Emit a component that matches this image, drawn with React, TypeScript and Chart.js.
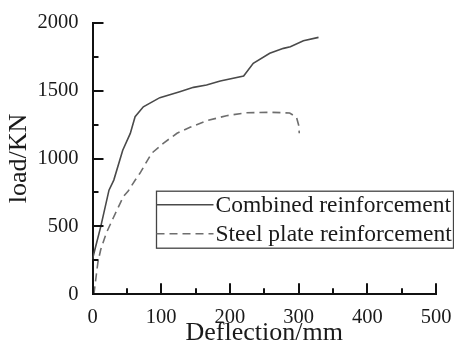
import React, { useEffect, useRef } from 'react';
import { Chart, registerables } from 'chart.js';

Chart.register(...registerables);

const seriesNames = ['Combined reinforcement', 'Steel plate reinforcement'];
const combinedX = [0, 1, 12, 24, 31, 44, 55, 62, 74, 98, 127, 147, 166, 186, 220, 234, 258, 278, 288, 307, 329];
const combinedY = [250, 280, 498, 767, 841, 1061, 1185, 1308, 1381, 1448, 1492, 1524, 1541, 1571, 1608, 1701, 1775, 1811, 1823, 1867, 1892];
const steelX = [2, 5, 8, 12, 20, 30, 45, 52, 62, 69, 86, 103, 123, 142, 166, 195, 224, 260, 287, 297, 300, 301];
const steelY = [0, 120, 240, 330, 450, 560, 720, 760, 840, 891, 1038, 1112, 1186, 1230, 1278, 1315, 1337, 1340, 1335, 1303, 1247, 1186];
const xTickValues = [0, 100, 200, 300, 400, 500];
const yTickValues = [0, 500, 1000, 1500, 2000];
const xTitle = 'Deflection/mm';
const yTitle = 'load/KN';

const FONT = '"Liberation Serif", "Times New Roman", serif';

const tickPlugin = {
  id: 'inwardTicks',
  afterDraw(chart: any) {
    const { ctx, chartArea: ca, scales } = chart;
    ctx.save();
    ctx.strokeStyle = '#111';
    ctx.lineWidth = 2;
    const xs = scales.x;
    xs.ticks.forEach((t: any) => {
      const px = Math.round(xs.getPixelForValue(t.value));
      const len = xTickValues.includes(t.value) ? 11 : 6;
      ctx.beginPath();
      ctx.moveTo(px, ca.bottom);
      ctx.lineTo(px, ca.bottom - len);
      ctx.stroke();
    });
    const ys = scales.y;
    ys.ticks.forEach((t: any) => {
      const py = Math.round(ys.getPixelForValue(t.value));
      const len = yTickValues.includes(t.value) ? 11 : 6;
      ctx.beginPath();
      ctx.moveTo(ca.left, py);
      ctx.lineTo(ca.left + len, py);
      ctx.stroke();
    });
    ctx.restore();
  },
};

const legendPlugin = {
  id: 'boxLegend',
  afterDraw(chart: any) {
    const { ctx, chartArea: ca } = chart;
    const left = ca.left + 64;
    const top = ca.top + 168.5;
    const width = 297;
    const height = 57;
    ctx.save();
    ctx.strokeStyle = '#444';
    ctx.lineWidth = 1.3;
    ctx.strokeRect(left, top, width, height);
    const rows = [top + 13.5, top + 42.5];
    chart.data.datasets.forEach((ds: any, i: number) => {
      const y = rows[i];
      ctx.beginPath();
      ctx.strokeStyle = ds.borderColor;
      ctx.lineWidth = ds.borderWidth;
      ctx.setLineDash(ds.borderDash || []);
      ctx.moveTo(left, y);
      ctx.lineTo(left + 57, y);
      ctx.stroke();
      ctx.setLineDash([]);
      ctx.fillStyle = '#1a1a1a';
      ctx.font = `23.5px ${FONT}`;
      ctx.textBaseline = 'middle';
      ctx.textAlign = 'left';
      ctx.fillText(ds.label, left + 59, y + 1);
    });
    ctx.restore();
  },
};

export default function App() {
  const ref = useRef<HTMLCanvasElement>(null);
  useEffect(() => {
    if (!ref.current) return;
    const chart = new Chart(ref.current, {
      type: 'line',
      data: {
        datasets: [
          {
            label: seriesNames[0],
            data: combinedX.map((x, i) => ({ x, y: combinedY[i] })),
            borderColor: '#4a4a4a',
            borderWidth: 1.6,
            pointRadius: 0,
            tension: 0,
            fill: false,
          },
          {
            label: seriesNames[1],
            data: steelX.map((x, i) => ({ x, y: steelY[i] })),
            borderColor: '#6e6e6e',
            borderWidth: 1.6,
            borderDash: [8, 5],
            pointRadius: 0,
            tension: 0,
            fill: false,
          },
        ],
      },
      options: {
        responsive: false,
        animation: false,
        layout: { padding: { top: 22.7, right: 18, left: 0, bottom: 0 } },
        plugins: { legend: { display: false }, tooltip: { enabled: false } },
        scales: {
          x: {
            type: 'linear',
            min: 0,
            max: 500,
            grid: { display: false, drawTicks: false },
            border: { display: true, color: '#111', width: 2 },
            ticks: {
              stepSize: 50,
              padding: 11,
              color: '#1a1a1a',
              font: { family: FONT, size: 20.5 },
              maxRotation: 0,
              autoSkip: false,
              callback: (v: any) => (xTickValues.includes(v) ? String(v) : ''),
            },
            title: {
              display: true,
              text: xTitle,
              color: '#1a1a1a',
              font: { family: FONT, size: 26 },
              padding: { top: 0, bottom: 0 },
            },
            afterFit: (s: any) => {
              s.height = 54.7;
              s.paddingLeft = 0;
              s.paddingRight = 0;
            },
          },
          y: {
            type: 'linear',
            min: 0,
            max: 2000,
            grid: { display: false, drawTicks: false },
            border: { display: true, color: '#111', width: 2 },
            ticks: {
              stepSize: 250,
              padding: 14,
              color: '#1a1a1a',
              font: { family: FONT, size: 20.5 },
              autoSkip: false,
              callback: (v: any) => (yTickValues.includes(v) ? String(v) : ''),
            },
            title: {
              display: true,
              text: yTitle,
              color: '#1a1a1a',
              font: { family: FONT, size: 26 },
              padding: { top: 4, bottom: 0 },
            },
            afterFit: (s: any) => {
              s.width = 92.5;
              s.paddingTop = 0;
              s.paddingBottom = 0;
            },
          },
        },
      },
      plugins: [tickPlugin, legendPlugin],
    });
    return () => chart.destroy();
  }, []);
  return (
    <div style={{ position: 'absolute', left: 0, top: 0, width: 454, height: 349, background: '#fff' }}>
      <canvas ref={ref} width={454} height={349} style={{ display: 'block' }} />
    </div>
  );
}
